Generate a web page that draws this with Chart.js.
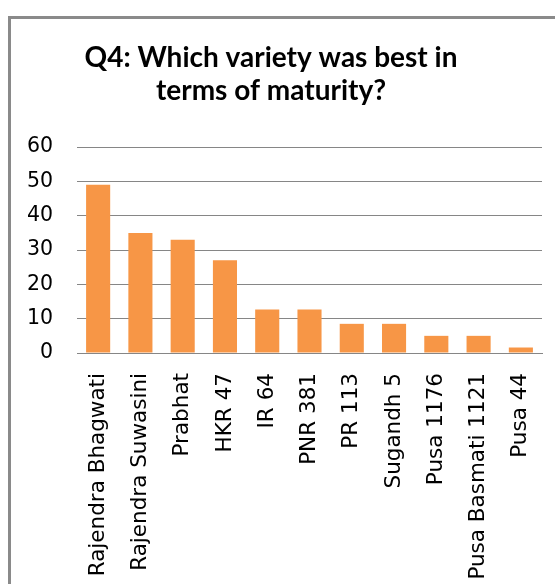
<!DOCTYPE html>
<html><head><meta charset="utf-8">
<script src="https://cdn.jsdelivr.net/npm/chart.js@4/dist/chart.umd.min.js"></script>
<style>
html,body{margin:0;padding:0;background:#fff;overflow:hidden;}
#wrap{position:relative;width:555px;height:584px;}
#frame{position:absolute;left:8px;top:16px;width:600px;height:600px;border-left:3px solid #8a8a8a;border-top:3px solid #8a8a8a;box-sizing:border-box;}
canvas{position:absolute;left:0;top:0;}
</style></head>
<body><div id="wrap"><div id="frame"></div><canvas id="c" width="555" height="584"></canvas></div>
<script>
const categories = ["Rajendra Bhagwati","Rajendra Suwasini","Prabhat","HKR 47","IR 64","PNR 381","PR 113","Sugandh 5","Pusa 1176","Pusa Basmati 1121","Pusa 44"];
const values = [49, 35, 33, 27, 12.7, 12.7, 8.5, 8.5, 5, 5, 1.6];
const yTicks = [0, 10, 20, 30, 40, 50, 60];
const titleLines = ["Q4: Which variety was best in", "terms of maturity?"];

new Chart(document.getElementById('c'), {
  type: 'bar',
  data: { labels: categories, datasets: [{ data: values, backgroundColor: '#F79646', borderWidth: 0, categoryPercentage: 1, barPercentage: 0.57 }] },
  options: {
    responsive: false, animation: false, devicePixelRatio: 1,
    layout: { padding: { left: 0, right: 13, top: 0, bottom: 0 } },
    plugins: {
      legend: { display: false }, tooltip: { enabled: false },
      title: { display: true, text: titleLines, color: '#000',
        font: { family: 'Lato', size: 28, weight: 'bold', lineHeight: 1.18 },
        padding: { top: 41.5, bottom: 39.5 } }
    },
    scales: {
      y: {
        min: 0, max: 60,
        afterBuildTicks: s => { s.ticks = yTicks.map(v => ({ value: v })); },
        afterFit: s => { s.width = 77; s.paddingTop = 0; s.paddingBottom = 0; },
        grid: { color: '#868686', lineWidth: 1, drawTicks: false },
        border: { display: false },
        ticks: { color: '#000', padding: 24, font: { family: 'DejaVu Sans', size: 20.5 } }
      },
      x: {
        afterFit: s => { s.height = 231; s.paddingLeft = 0; s.paddingRight = 0; },
        grid: { display: false, drawTicks: false },
        border: { display: true, color: '#868686' },
        ticks: { color: '#000', padding: 20, minRotation: 90, maxRotation: 90, autoSkip: false, font: { family: 'DejaVu Sans', size: 21.5 } }
      }
    }
  }
});
</script></body></html>
